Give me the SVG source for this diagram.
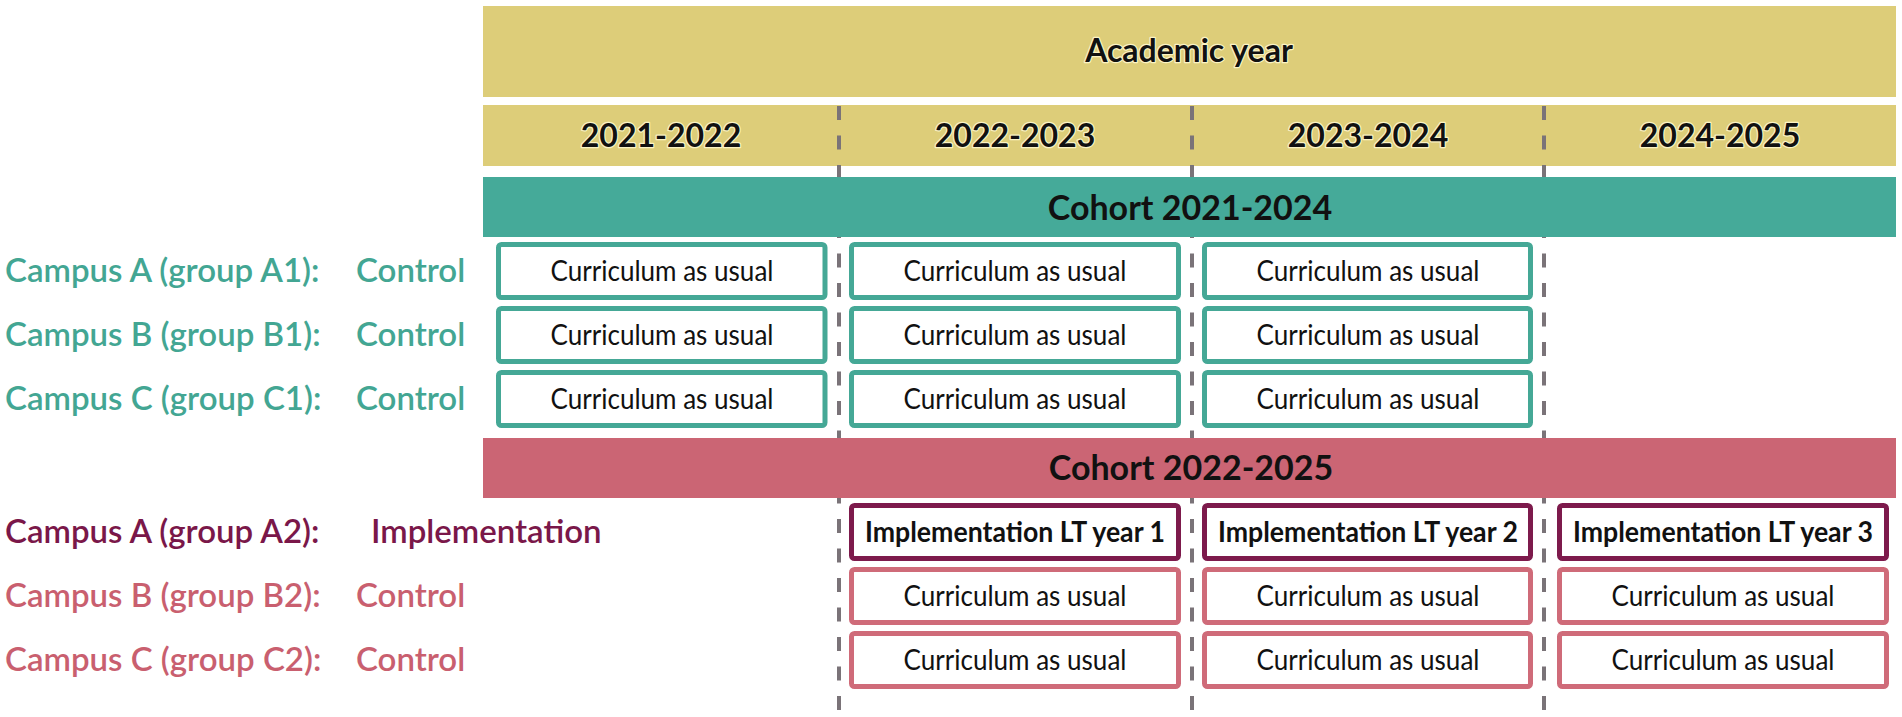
<svg xmlns="http://www.w3.org/2000/svg" width="1902" height="717" viewBox="0 0 1902 717">
<style>
text { font-family: Lato, "Liberation Sans", sans-serif; }
.hdr { font-weight: 700; font-size: 32px; fill: #111; text-anchor: middle; }
.coh { font-weight: 700; font-size: 34px; fill: #111; text-anchor: middle; }
.halo { stroke: #fbf3c4; stroke-width: 2.5px; paint-order: stroke; stroke-linejoin: round; }
.cell { font-size: 28px; fill: #111; text-anchor: middle; }
.impl { font-size: 28px; font-weight: 700; fill: #111; text-anchor: middle; }
.lbl { font-size: 33px; font-weight: 600; }
.tl { fill: #43A693; }
.pl { fill: #C95F6F; }
.ml { fill: #7A1749; }
.bt { fill: #fff; stroke: #45A896; stroke-width: 5; }
.bp { fill: #fff; stroke: #CF6B79; stroke-width: 5; }
.bm { fill: #fff; stroke: #7D1A4C; stroke-width: 5; }
.dv { stroke: #7a7378; stroke-width: 4; stroke-dasharray: 14 15.5; fill: none; }
</style>
<rect width="1902" height="717" fill="#fff"/>
<g id="academic-year">
  <rect x="483" y="6" width="1413" height="91" fill="#DDCD79"/>
  <text class="hdr halo" x="1189" y="62">Academic year</text>
</g>
<g id="years">
  <rect x="483" y="105" width="1413" height="61" fill="#DDCD79"/>
  <text class="hdr halo" x="661" y="147">2021-2022</text>
  <text class="hdr halo" x="1015" y="147">2022-2023</text>
  <text class="hdr halo" x="1368" y="147">2023-2024</text>
  <text class="hdr halo" x="1720" y="147">2024-2025</text>
</g>
<g id="connectors">
  <line class="dv" x1="839" y1="106" x2="839" y2="712"/>
  <line class="dv" x1="1192" y1="106" x2="1192" y2="712"/>
  <line class="dv" x1="1544" y1="106" x2="1544" y2="712"/>
</g>
<g id="cohort-2021-2024">
  <rect x="483" y="177" width="1413" height="60" fill="#45AA99"/>
  <text class="coh" x="1190" y="220">Cohort 2021-2024</text>
</g>
<g id="cohort-2022-2025">
  <rect x="483" y="438" width="1413" height="60" fill="#CB6574"/>
  <text class="coh" x="1191" y="480">Cohort 2022-2025</text>
</g>
<g id="label-A1"><text class="lbl tl" x="5" y="282">Campus A (group A1):<tspan x="356">Control</tspan></text></g>
<g id="label-B1"><text class="lbl tl" x="5" y="346">Campus B (group B1):<tspan x="356">Control</tspan></text></g>
<g id="label-C1"><text class="lbl tl" x="5" y="410">Campus C (group C1):<tspan x="356">Control</tspan></text></g>
<g id="label-A2"><text class="lbl ml" x="5" y="543">Campus A (group A2):<tspan x="371">Implementation</tspan></text></g>
<g id="label-B2"><text class="lbl pl" x="5" y="607">Campus B (group B2):<tspan x="356">Control</tspan></text></g>
<g id="label-C2"><text class="lbl pl" x="5" y="671">Campus C (group C2):<tspan x="356">Control</tspan></text></g>
<g id="A1-y1"><rect class="bt" x="498.5" y="244.5" width="326.5" height="53" rx="3"/><text class="cell" x="662" y="281" textLength="223" lengthAdjust="spacingAndGlyphs">Curriculum as usual</text></g>
<g id="A1-y2"><rect class="bt" x="851.5" y="244.5" width="327" height="53" rx="3"/><text class="cell" x="1015" y="281" textLength="223" lengthAdjust="spacingAndGlyphs">Curriculum as usual</text></g>
<g id="A1-y3"><rect class="bt" x="1204.5" y="244.5" width="326" height="53" rx="3"/><text class="cell" x="1368" y="281" textLength="223" lengthAdjust="spacingAndGlyphs">Curriculum as usual</text></g>
<g id="B1-y1"><rect class="bt" x="498.5" y="308.5" width="326.5" height="53" rx="3"/><text class="cell" x="662" y="345" textLength="223" lengthAdjust="spacingAndGlyphs">Curriculum as usual</text></g>
<g id="B1-y2"><rect class="bt" x="851.5" y="308.5" width="327" height="53" rx="3"/><text class="cell" x="1015" y="345" textLength="223" lengthAdjust="spacingAndGlyphs">Curriculum as usual</text></g>
<g id="B1-y3"><rect class="bt" x="1204.5" y="308.5" width="326" height="53" rx="3"/><text class="cell" x="1368" y="345" textLength="223" lengthAdjust="spacingAndGlyphs">Curriculum as usual</text></g>
<g id="C1-y1"><rect class="bt" x="498.5" y="372.5" width="326.5" height="53" rx="3"/><text class="cell" x="662" y="409" textLength="223" lengthAdjust="spacingAndGlyphs">Curriculum as usual</text></g>
<g id="C1-y2"><rect class="bt" x="851.5" y="372.5" width="327" height="53" rx="3"/><text class="cell" x="1015" y="409" textLength="223" lengthAdjust="spacingAndGlyphs">Curriculum as usual</text></g>
<g id="C1-y3"><rect class="bt" x="1204.5" y="372.5" width="326" height="53" rx="3"/><text class="cell" x="1368" y="409" textLength="223" lengthAdjust="spacingAndGlyphs">Curriculum as usual</text></g>
<g id="A2-y1"><rect class="bm" x="851.5" y="505.5" width="327" height="53" rx="3"/><text class="impl" x="1015" y="542" textLength="300" lengthAdjust="spacingAndGlyphs">Implementation LT year 1</text></g>
<g id="A2-y2"><rect class="bm" x="1204.5" y="505.5" width="326" height="53" rx="3"/><text class="impl" x="1368" y="542" textLength="300" lengthAdjust="spacingAndGlyphs">Implementation LT year 2</text></g>
<g id="A2-y3"><rect class="bm" x="1559.5" y="505.5" width="327" height="53" rx="3"/><text class="impl" x="1723" y="542" textLength="300" lengthAdjust="spacingAndGlyphs">Implementation LT year 3</text></g>
<g id="B2-y1"><rect class="bp" x="851.5" y="569.5" width="327" height="53" rx="3"/><text class="cell" x="1015" y="606" textLength="223" lengthAdjust="spacingAndGlyphs">Curriculum as usual</text></g>
<g id="B2-y2"><rect class="bp" x="1204.5" y="569.5" width="326" height="53" rx="3"/><text class="cell" x="1368" y="606" textLength="223" lengthAdjust="spacingAndGlyphs">Curriculum as usual</text></g>
<g id="B2-y3"><rect class="bp" x="1559.5" y="569.5" width="327" height="53" rx="3"/><text class="cell" x="1723" y="606" textLength="223" lengthAdjust="spacingAndGlyphs">Curriculum as usual</text></g>
<g id="C2-y1"><rect class="bp" x="851.5" y="633.5" width="327" height="53" rx="3"/><text class="cell" x="1015" y="670" textLength="223" lengthAdjust="spacingAndGlyphs">Curriculum as usual</text></g>
<g id="C2-y2"><rect class="bp" x="1204.5" y="633.5" width="326" height="53" rx="3"/><text class="cell" x="1368" y="670" textLength="223" lengthAdjust="spacingAndGlyphs">Curriculum as usual</text></g>
<g id="C2-y3"><rect class="bp" x="1559.5" y="633.5" width="327" height="53" rx="3"/><text class="cell" x="1723" y="670" textLength="223" lengthAdjust="spacingAndGlyphs">Curriculum as usual</text></g>
</svg>
